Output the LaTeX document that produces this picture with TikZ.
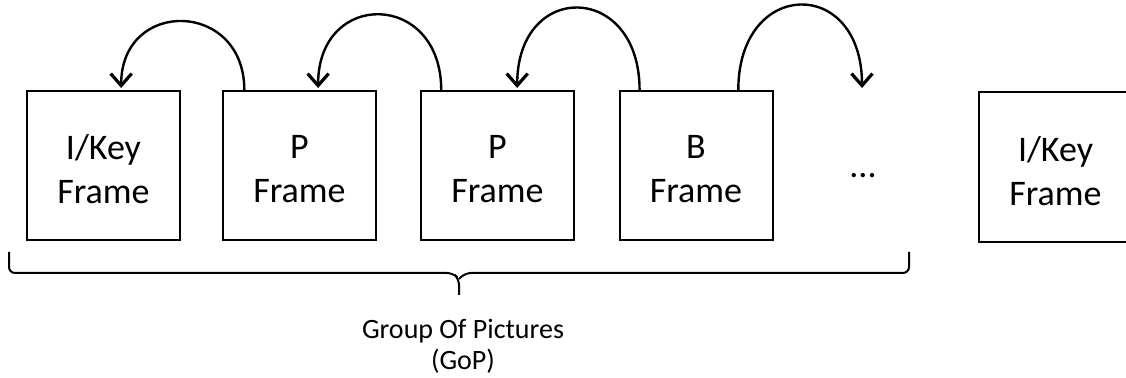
\documentclass[tikz,border=0pt]{standalone}
\usepackage{fontspec}
\setmainfont{Carlito}
\usetikzlibrary{arrows.meta,calc}
\begin{document}
\begin{tikzpicture}[x=0.5pt,y=-0.5pt,
  frame/.style={draw,line width=1pt,inner sep=0pt,minimum width=76.5pt,minimum height=74.5pt},
  txt/.style={align=center,inner sep=0pt,font=\fontsize{18}{22}\selectfont},
  jump/.style={line width=1.2pt,-{Straight Barb[length=6pt,width=10.5pt,line width=1.6pt]}},
  brace/.style={line width=1pt,rounded corners=3pt},
  lbl/.style={align=center,font=\fontsize{14}{15.5}\selectfont,inner sep=0pt}]
\useasboundingbox (0,0) rectangle (1126,378);
\node[frame] (b1) at (103.5,165.5) {};
\node[frame] (b2) at (299.5,165.5) {};
\node[frame] (b3) at (497.5,165.5) {};
\node[frame] (b4) at (696,165.5) {};
\node[frame,minimum height=75pt] (b5) at (1055.5,167) {};
\node[txt] (t1) at ($(b1.center)+(0,4)$) {I/Key\\Frame};
\node[txt] (t2) at ($(b2.center)+(0,4)$) {P\\Frame};
\node[txt] (t3) at ($(b3.center)+(0,4)$) {P\\Frame};
\node[txt] (t4) at ($(b4.center)+(0,4)$) {B\\Frame};
\node[txt] (t5) at ($(b5.center)+(0,4)$) {I/Key\\Frame};
\node[anchor=base,inner sep=0pt,font=\fontsize{18}{22}\selectfont] (dots) at (863,178) {...};
% arc endpoints
\coordinate (a1s) at ($(b2.north west)!0.144!(b2.north east)$);
\coordinate (a1e) at ($(b1.north west)!0.614!(b1.north east)+(0,-2)$);
\coordinate (a2s) at ($(b3.north west)!0.137!(b3.north east)$);
\coordinate (a2e) at ($(b2.north west)!0.62!(b2.north east)+(0,-2)$);
\coordinate (a3s) at ($(b4.north west)!0.136!(b4.north east)$);
\coordinate (a3e) at ($(b3.north west)!0.627!(b3.north east)+(0,-2)$);
\coordinate (a4s) at ($(b4.north west)!0.773!(b4.north east)$);
\coordinate (a4e) at ($(dots.base)+(-1,-90)$);
\draw[jump] (a1s) .. controls +(0,-90) and +(0,-90) .. (a1e);
\draw[jump] (a2s) .. controls +(0,-99) and +(0,-99) .. (a2e);
\draw[jump] (a3s) .. controls +(0,-108) and +(0,-108) .. (a3e);
\draw[jump] (a4s) .. controls +(0,-112) and +(0,-112) .. (a4e);
% brace under the group
\draw[brace] (9,252) -- (9,273) -- (453,273) -- (459,279) -- (459,295);
\draw[brace] (459,279) -- (465,273) -- (909,273) -- (909,252);
\node[lbl] (gop) at (463,346) {Group Of Pictures\\(GoP)};
\end{tikzpicture}
\end{document}
